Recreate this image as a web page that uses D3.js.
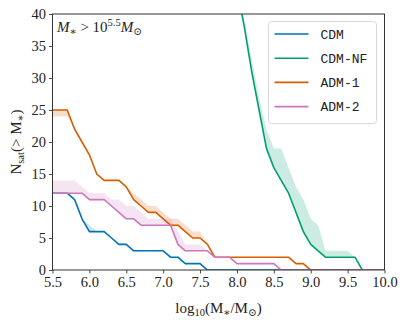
<!DOCTYPE html>
<html>
<head>
<meta charset="utf-8">
<script src="https://cdn.jsdelivr.net/npm/d3@7"></script>
<style>
  body { margin: 0; background: #fff; }
  svg { display: block; }
  .tick text { font-family: 'Liberation Serif', 'DejaVu Serif', serif; font-size: 14.5px; fill: #222; }
  .lbl { font-family: 'Liberation Serif', 'DejaVu Serif', serif; font-size: 15px; fill: #222; }
  .leg { font-family: 'Liberation Mono', 'DejaVu Sans Mono', monospace; font-size: 13px; fill: #222; }
</style>
</head>
<body>
<svg id="chart" width="407" height="324"></svg>
<script>
// log10 stellar mass grid
const logM = [5.5, 5.6, 5.7, 5.8, 5.9, 6.0, 6.1, 6.2, 6.3, 6.4,
  6.5, 6.6, 6.7, 6.8, 6.9, 7.0, 7.1, 7.2, 7.3, 7.4,
  7.5, 7.6, 7.7, 7.8, 7.9, 8.0, 8.1, 8.2, 8.3, 8.4,
  8.5, 8.6, 8.7, 8.8, 8.9, 9.0, 9.1, 9.2, 9.3, 9.4,
  9.5, 9.6, 9.7, 9.8, 9.9, 10.0]

const seriesNames = ['CDM', 'CDM-NF', 'ADM-1', 'ADM-2']
const colors = ['#0173B2', '#029E73', '#D55E00', '#CC78BC']

// main curves
const cdm = [12, 12, 12, 11, 8, 6, 6, 6, 5, 4, 4, 3, 3, 3, 3, 3, 2, 2, 1, 1,
  1, 0, 0, 0, 0, 0, 0, 0, 0, 0, 0, 0, 0, 0, 0, 0, 0, 0, 0, 0, 0, 0, 0, 0, 0, 0]
const cdmNF = [null, null, null, null, null, null, null, null, null, null,
  null, null, null, null, null, null, null, null, null, null,
  null, null, null, 56, 50, 44, 38, 31, 25, 19, 16, 14, 12, 9, 6, 4, 3, 2, 2, 2,
  2, 2, 0, 0, 0, 0]
const adm1 = [25, 25, 25, 22, 20, 18, 15, 14, 14, 14, 13, 11, 10, 9, 9, 8, 7, 7, 6, 5,
  5, 4, 2, 2, 2, 2, 2, 2, 2, 2, 2, 2, 2, 1, 1, 0, 0, 0, 0, 0, 0, 0, 0, 0, 0, 0]
const adm2 = [12, 12, 12, 12, 12, 11, 11, 11, 10, 9, 8, 8, 7, 7, 7, 7, 7, 4, 3, 3,
  3, 3, 2, 2, 2, 1, 1, 1, 1, 1, 1, 0, 0, 0, 0, 0, 0, 0, 0, 0, 0, 0, 0, 0, 0, 0]

// other bound of the shaded band
const cdmAlt = [12, 12, 12, 11, 8, 7, 6, 6, 5, 4, 4, 3, 3, 3, 3, 3, 2, 2, 1, 1,
  1, 0, 0, 0, 0, 0, 0, 0, 0, 0, 0, 0, 0, 0, 0, 0, 0, 0, 0, 0, 0, 0, 0, 0, 0, 0]
const cdmNFAlt = [null, null, null, null, null, null, null, null, null, null,
  null, null, null, null, null, null, null, null, null, null,
  null, null, null, 56, 50, 44, 39, 33, 27, 22, 19, 19, 16, 13, 11, 8, 7, 3, 3, 3,
  3, 2, 0, 0, 0, 0]
const adm1Alt = [24, 24, 24, 22, 20, 18, 15, 14, 14, 14, 13, 12, 11, 10, 10, 9, 8, 8, 7, 6,
  6, 4, 2, 2, 2, 2, 2, 2, 2, 2, 2, 2, 2, 1, 1, 0, 0, 0, 0, 0, 0, 0, 0, 0, 0, 0]
const adm2Alt = [14, 14, 14, 14, 13, 12, 12, 12, 11, 11, 10, 10, 9, 8, 8, 8, 8, 6, 4, 4,
  4, 3, 2, 2, 2, 1, 1, 1, 1, 1, 1, 0, 0, 0, 0, 0, 0, 0, 0, 0, 0, 0, 0, 0, 0, 0]

const xTicks = [5.5, 6.0, 6.5, 7.0, 7.5, 8.0, 8.5, 9.0, 9.5, 10.0]
const yTicks = [0, 5, 10, 15, 20, 25, 30, 35, 40]

const mains = [cdm, cdmNF, adm1, adm2]
const alts = [cdmAlt, cdmNFAlt, adm1Alt, adm2Alt]

const svg = d3.select('#chart')
const mLeft = 52.5, mRight = 384.5, mTop = 14, mBottom = 270

const x = d3.scaleLinear().domain([5.5, 10]).range([mLeft, mRight])
const y = d3.scaleLinear().domain([0, 40]).range([mBottom, mTop])

svg.append('defs').append('clipPath').attr('id', 'clip')
  .append('rect').attr('x', mLeft).attr('y', mTop)
  .attr('width', mRight - mLeft).attr('height', mBottom - mTop)

const plot = svg.append('g').attr('clip-path', 'url(#clip)')

mains.forEach((vals, k) => {
  const rows = logM.map((m, i) => ({ m: m, v: vals[i], a: alts[k][i] }))
  const area = d3.area()
    .defined((d) => d.v !== null)
    .x((d) => x(d.m))
    .y0((d) => y(d.v))
    .y1((d) => y(d.a))
  plot.append('path')
    .datum(rows)
    .attr('d', area)
    .attr('fill', colors[k])
    .attr('fill-opacity', 0.2)
})

mains.forEach((vals, k) => {
  const rows = logM.map((m, i) => ({ m: m, v: vals[i] }))
  const line = d3.line()
    .defined((d) => d.v !== null)
    .x((d) => x(d.m))
    .y((d) => y(d.v))
  plot.append('path')
    .datum(rows)
    .attr('d', line)
    .attr('fill', 'none')
    .attr('stroke', colors[k])
    .attr('stroke-width', 1.6)
    .attr('stroke-linejoin', 'round')
})

// axes
const gx = svg.append('g')
  .attr('transform', `translate(0,${mBottom})`)
  .call(d3.axisBottom(x).tickValues(xTicks).tickFormat(d3.format('.1f')).tickSizeOuter(0).tickSize(3.5).tickPadding(3))
const gy = svg.append('g')
  .attr('transform', `translate(${mLeft},0)`)
  .call(d3.axisLeft(y).tickValues(yTicks).tickSizeOuter(0).tickSize(3.5).tickPadding(3))
gx.select('.domain').remove()
gy.select('.domain').remove()
svg.selectAll('.tick line').attr('stroke', '#333').attr('stroke-width', 0.9)

svg.append('rect')
  .attr('x', mLeft).attr('y', mTop)
  .attr('width', mRight - mLeft).attr('height', mBottom - mTop)
  .attr('fill', 'none')
  .attr('stroke', '#333')
  .attr('stroke-width', 1)

// axis labels
const xl = svg.append('text').attr('class', 'lbl')
  .attr('x', (mLeft + mRight) / 2).attr('y', 313).attr('text-anchor', 'middle')
xl.append('tspan').text('log')
xl.append('tspan').attr('font-size', '10.5px').attr('dy', 3).text('10')
xl.append('tspan').attr('dy', -3).text('(M')
xl.append('tspan').attr('font-size', '10.5px').attr('dy', 3).text('∗')
xl.append('tspan').attr('dy', -3).text('/M')
xl.append('tspan').attr('font-size', '10.5px').attr('dy', 3).text('⊙')
xl.append('tspan').attr('dy', -3).text(')')

const yl = svg.append('text').attr('class', 'lbl')
  .attr('transform', `translate(21,${(mTop + mBottom) / 2}) rotate(-90)`)
  .attr('text-anchor', 'middle')
yl.append('tspan').text('N')
yl.append('tspan').attr('font-size', '10.5px').attr('dy', 3).text('sat')
yl.append('tspan').attr('dy', -3).text('(> M')
yl.append('tspan').attr('font-size', '10.5px').attr('dy', 3).text('∗')
yl.append('tspan').attr('dy', -3).text(')')

// annotation
const ann = svg.append('text').attr('class', 'lbl')
  .attr('x', 57).attr('y', 32)
ann.append('tspan').attr('font-style', 'italic').text('M')
ann.append('tspan').attr('font-size', '10.5px').attr('dy', 3).text('∗')
ann.append('tspan').attr('dy', -3).text(' > 10')
ann.append('tspan').attr('font-size', '10.5px').attr('dy', -6).text('5.5')
ann.append('tspan').attr('font-style', 'italic').attr('dy', 6).text('M')
ann.append('tspan').attr('font-size', '10.5px').attr('dy', 3).text('⊙')

// legend
const leg = svg.append('g').attr('transform', 'translate(268.5,21.5)')
leg.append('rect')
  .attr('width', 108).attr('height', 102).attr('rx', 3)
  .attr('fill', '#fff').attr('fill-opacity', 0.8)
  .attr('stroke', '#d9d9d9').attr('stroke-width', 1)
seriesNames.forEach((name, i) => {
  const row = leg.append('g').attr('transform', `translate(0,${12.5 + i * 24.2})`)
  row.append('line').attr('x1', 6).attr('x2', 40).attr('y1', 0).attr('y2', 0)
    .attr('stroke', colors[i]).attr('stroke-width', 1.6)
  row.append('text').attr('class', 'leg').attr('x', 52).attr('y', 4.5).text(name)
})
</script>
</body>
</html>
